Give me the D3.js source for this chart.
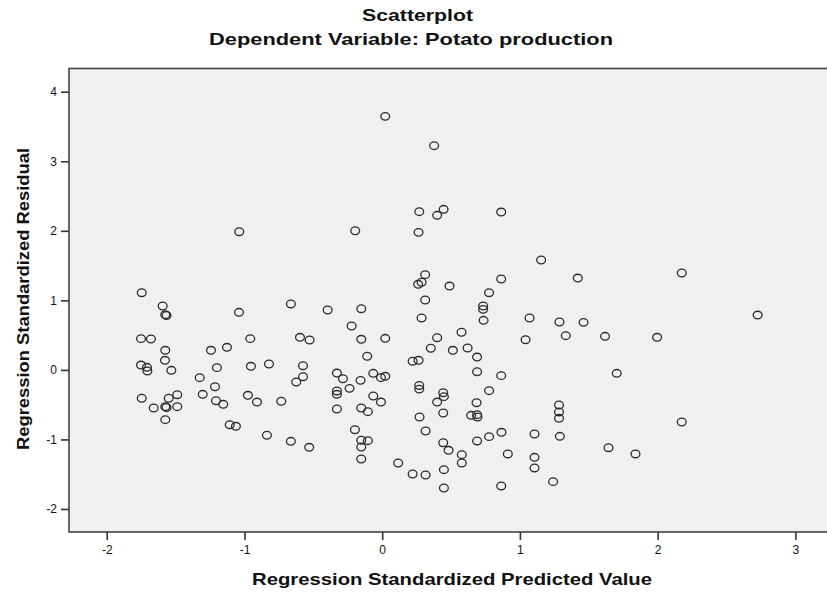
<!DOCTYPE html>
<html>
<head>
<meta charset="utf-8">
<script src="https://cdn.jsdelivr.net/npm/d3@7"></script>
<style>
  html, body { margin: 0; padding: 0; background: #ffffff; }
  svg { display: block; }
  text { font-family: "Liberation Sans", Arial, sans-serif; fill: #111; }
</style>
</head>
<body>
<svg id="chart" width="827" height="592"></svg>
<script>
// Regression diagnostics: standardized predicted value vs standardized residual
const titleText = "Scatterplot";
const subtitleText = "Dependent Variable: Potato production";
const xLabel = "Regression Standardized Predicted Value";
const yLabel = "Regression Standardized Residual";

const xTicks = [-2, -1, 0, 1, 2, 3];
const yTicks = [-2, -1, 0, 1, 2, 3, 4];

const predicted = [
  -1.746, -1.594, -1.575, -1.566, -1.040, -0.663, -0.396, -0.152, -0.222, -1.751,
  -1.679, -0.958, -0.597, -0.527, -0.152, -1.575, -1.243, -1.127, -0.109, -1.751,
  -1.708, -1.705, -1.577, -1.531, -1.200, -0.953, -0.822, -0.575, -0.575, -0.624,
  -1.325, -1.214, -0.329, -0.285, -0.157, -0.065, -0.009, 0.022, -0.237, -1.746,
  -1.659, -1.575, -1.566, -1.550, -1.488, -1.488, -1.575, -1.303, -1.207, -1.154,
  -0.975, -0.909, -0.733, -1.107, -1.062, -0.837, -0.663, -0.530, -0.329, -0.329,
  -0.329, -0.152, -0.104, -0.065, -0.009, -0.198, -0.152, -0.104, -0.152, -0.152,
  0.022, 0.377, 0.269, 0.446, 0.399, 0.864, 0.264, 1.154, 0.312, 0.286,
  0.261, 0.489, 0.864, 1.420, 0.776, 0.312, 0.733, 0.733, 0.736, 0.286,
  1.070, 1.287, 1.462, 1.333, 1.618, 1.041, 0.022, 0.399, 0.576, 0.353,
  0.513, 0.620, 0.689, 0.689, 0.864, 1.703, 0.221, 0.264, 0.269, 0.269,
  0.443, 0.448, 0.776, 0.399, 0.685, 0.443, 0.271, 0.646, 0.689, 0.692,
  0.315, 0.443, 0.482, 0.578, 0.578, 0.689, 0.776, 0.866, 0.912, 1.106,
  1.106, 1.106, 1.284, 1.284, 1.284, 1.290, 1.643, 1.839, 0.116, 0.221,
  0.315, 0.448, 0.448, 0.864, 1.241, -1.038, -0.196, 2.175, 2.726, 1.996,
  2.175
];

const residual = [
  1.110, 0.919, 0.794, 0.782, 0.828, 0.948, 0.861, 0.880, 0.631, 0.449,
  0.444, 0.449, 0.469, 0.430, 0.440, 0.282, 0.282, 0.325, 0.196, 0.070,
  0.037, -0.016, 0.138, -0.006, 0.032, 0.052, 0.085, 0.060, -0.098, -0.174,
  -0.112, -0.242, -0.045, -0.127, -0.150, -0.049, -0.112, -0.092, -0.265, -0.408,
  -0.548, -0.529, -0.541, -0.408, -0.357, -0.529, -0.716, -0.351, -0.443, -0.495,
  -0.365, -0.462, -0.451, -0.788, -0.811, -0.940, -1.027, -1.113, -0.303, -0.351,
  -0.562, -0.548, -0.601, -0.375, -0.462, -0.860, -1.012, -1.018, -1.109, -1.281,
  3.646, 3.224, 2.275, 2.309, 2.223, 2.270, 1.978, 1.580, 1.369, 1.260,
  1.231, 1.206, 1.307, 1.321, 1.110, 1.005, 0.919, 0.871, 0.713, 0.746,
  0.746, 0.689, 0.684, 0.492, 0.483, 0.434, 0.454, 0.463, 0.541, 0.311,
  0.282, 0.315, 0.185, -0.026, -0.083, -0.049, 0.124, 0.138, -0.224, -0.276,
  -0.328, -0.385, -0.299, -0.462, -0.472, -0.620, -0.677, -0.653, -0.644, -0.677,
  -0.879, -1.047, -1.156, -1.219, -1.339, -1.022, -0.960, -0.897, -1.209, -0.922,
  -1.257, -1.410, -0.505, -0.605, -0.696, -0.955, -1.119, -1.209, -1.339, -1.497,
  -1.511, -1.435, -1.698, -1.669, -1.607, 1.987, 2.001, 1.393, 0.789, 0.469,
  -0.749
];

const points = predicted.map((v, i) => ({ x: v, y: residual[i] }));

const svg = d3.select("#chart");

// Plot frame (extends past the right edge of the canvas)
const frame = { left: 69, top: 68.5, right: 840, bottom: 532 };

const x = d3.scaleLinear()
  .domain([-2.274, 3.324])
  .range([frame.left, frame.right]);

const y = d3.scaleLinear()
  .domain([-2.331, 4.334])
  .range([frame.bottom, frame.top]);

svg.append("rect")
  .attr("x", frame.left)
  .attr("y", frame.top)
  .attr("width", frame.right - frame.left)
  .attr("height", frame.bottom - frame.top)
  .attr("fill", "#f0f0f0")
  .attr("stroke", "#444")
  .attr("stroke-width", 1.6);

// Axes (plain hyphen for negative labels)
const intLabel = d => String(d);

const xAxis = svg.append("g")
  .attr("transform", `translate(0,${frame.bottom})`)
  .call(d3.axisBottom(x).tickValues(xTicks).tickSize(8).tickPadding(5)
    .tickFormat(intLabel));

const yAxis = svg.append("g")
  .attr("transform", `translate(${frame.left},0)`)
  .call(d3.axisLeft(y).tickValues(yTicks).tickSize(8).tickPadding(4)
    .tickFormat(intLabel));

[xAxis, yAxis].forEach(g => {
  g.select(".domain").remove();
  g.selectAll(".tick line").attr("stroke", "#333").attr("stroke-width", 1.6);
  g.selectAll(".tick text")
    .attr("font-family", "'Liberation Sans', Arial, sans-serif")
    .attr("font-size", 12)
    .attr("fill", "#222");
});

// Markers: open circles
svg.append("g")
  .selectAll("ellipse")
  .data(points)
  .join("ellipse")
  .attr("cx", d => x(d.x))
  .attr("cy", d => y(d.y))
  .attr("rx", 4.4)
  .attr("ry", 3.8)
  .attr("fill", "none")
  .attr("stroke", "#2a2a2a")
  .attr("stroke-width", 1.3);

// Titles
svg.append("text")
  .attr("x", 362).attr("y", 21)
  .attr("font-size", 17).attr("font-weight", "bold")
  .attr("textLength", 111).attr("lengthAdjust", "spacingAndGlyphs")
  .text(titleText);

svg.append("text")
  .attr("x", 209).attr("y", 45)
  .attr("font-size", 17).attr("font-weight", "bold")
  .attr("textLength", 404).attr("lengthAdjust", "spacingAndGlyphs")
  .text(subtitleText);

// Axis titles
svg.append("text")
  .attr("x", 252).attr("y", 585)
  .attr("font-size", 17).attr("font-weight", "bold")
  .attr("textLength", 400).attr("lengthAdjust", "spacingAndGlyphs")
  .text(xLabel);

svg.append("text")
  .attr("transform", "translate(29,450) rotate(-90)")
  .attr("x", 0).attr("y", 0)
  .attr("font-size", 17).attr("font-weight", "bold")
  .attr("textLength", 302).attr("lengthAdjust", "spacingAndGlyphs")
  .text(yLabel);
</script>
</body>
</html>
